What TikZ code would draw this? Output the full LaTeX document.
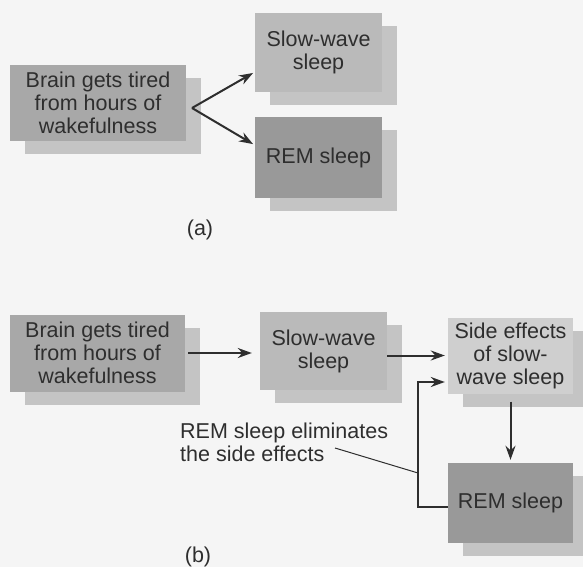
\documentclass[tikz,border=0pt]{standalone}
\usepackage{fontspec}
\setmainfont{Liberation Sans}
\usetikzlibrary{arrows.meta,shadows}

\definecolor{paper}{gray}{0.96}
\definecolor{ink}{gray}{0.18}
\definecolor{shade}{gray}{0.77}
\definecolor{boxmid}{gray}{0.66}
\definecolor{boxlight}{gray}{0.73}
\definecolor{boxdark}{gray}{0.60}
\definecolor{boxpale}{gray}{0.81}

\tikzset{
  card/.style={fill=#1, text=ink, align=center, inner sep=0pt,
    font=\fontsize{21.5}{23}\selectfont,
    drop shadow={shadow xshift=15pt, shadow yshift=-13pt, fill=shade, opacity=1}},
  flow/.style={-{Stealth[length=14pt,width=10pt]}, line width=2pt, draw=ink},
  caption/.style={text=ink, font=\fontsize{21.5}{23}\selectfont},
}

\begin{document}
\begin{tikzpicture}[x=1pt,y=-1pt]
  \fill[paper] (0,0) rectangle (583,567);
  \useasboundingbox (0,0) rectangle (583,567);

  % (a)
  \node[card=boxmid, minimum width=176pt, minimum height=76pt] (brainA) at (98,103) {Brain gets tired\\from hours of\\wakefulness};
  \node[card=boxlight, minimum width=127pt, minimum height=79pt] (slowA) at (318.5,52.5) {Slow-wave\\sleep};
  \node[card=boxdark, minimum width=127pt, minimum height=81pt] (remA) at (318.5,157.5) {REM sleep};
  \coordinate (fork) at (192,108);
  \draw[flow, shorten >=2pt] (fork) -- (slowA.197);
  \draw[flow, shorten >=2pt] (fork) -- (remA.169);
  \node[caption] (capA) at (200,230) {(a)};

  % (b)
  \node[card=boxmid, minimum width=175pt, minimum height=77pt] (brainB) at (97.5,353) {Brain gets tired\\from hours of\\wakefulness};
  \node[card=boxlight, minimum width=127pt, minimum height=78pt] (slowB) at (323.5,351) {Slow-wave\\sleep};
  \node[card=boxpale, minimum width=125pt, minimum height=76pt] (sideB) at (510.5,355.5) {Side effects\\of slow-\\wave sleep};
  \node[card=boxdark, minimum width=125pt, minimum height=80pt] (remB) at (510.5,503) {REM sleep};
  \draw[flow, shorten <=3pt, shorten >=8pt] (brainB.east) -- (brainB.east -| slowB.west);
  \draw[flow, shorten >=3pt] (slowB.east |- sideB.west) -- (sideB.west);
  \draw[flow, shorten <=8pt, shorten >=3pt] (sideB.south) -- (remB.north);
  \coordinate (touch) at (418,473);
  \draw[flow, shorten >=3pt] ([yshift=-4pt]remB.west) -| (touch) |- ([yshift=-26.5pt]sideB.west);

  \node[caption, anchor=north west, align=left, inner sep=0pt] (note) at (180,423) {REM sleep eliminates\\the side effects};
  \coordinate (lead) at (335,448);
  \draw[ink, line width=1pt] (lead) -- (touch);
  \node[caption] (capB) at (198,557) {(b)};
\end{tikzpicture}
\end{document}
